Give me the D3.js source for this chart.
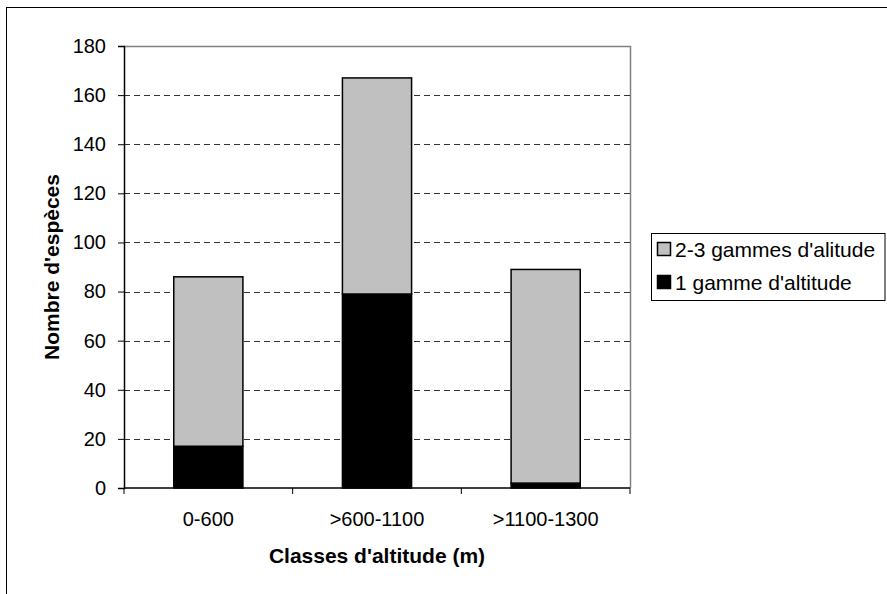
<!DOCTYPE html>
<html>
<head>
<meta charset="utf-8">
<script src="https://cdn.jsdelivr.net/npm/d3@7"></script>
<style>
  html, body { margin: 0; padding: 0; background: #fff; }
  svg { display: block; font-family: "Liberation Sans", Arial, sans-serif; }
</style>
</head>
<body>
<svg id="chart" width="887" height="594"></svg>
<script>
// Altitude classes and species counts per class
const categories = ["0-600", ">600-1100", ">1100-1300"];
const oneRange = [17, 79, 2];        // 1 gamme d'altitude
const multiRange = [69, 88, 87];     // 2-3 gammes d'altitude
const yTicks = [0, 20, 40, 60, 80, 100, 120, 140, 160, 180];
const seriesNames = ["1 gamme d'altitude", "2-3 gammes d'alitude"];
const seriesColors = ["#000000", "#c0c0c0"];

const svg = d3.select("#chart");

// Outer chart frame
svg.append("rect")
  .attr("x", 6.5).attr("y", 7.5)
  .attr("width", 900).attr("height", 600)
  .attr("fill", "#fff").attr("stroke", "#000").attr("stroke-width", 1);

const plot = { left: 124, right: 630, top: 46, bottom: 488 };

const x = d3.scaleBand()
  .domain(categories)
  .range([plot.left, plot.right])
  .paddingInner(0.59)
  .paddingOuter(0.295);

const y = d3.scaleLinear()
  .domain([0, 180])
  .range([plot.bottom, plot.top]);

// Plot area border (top and right)
svg.append("path")
  .attr("d", `M${plot.left},${plot.top + 0.5}H${plot.right + 0.5}V${plot.bottom}`)
  .attr("fill", "none").attr("stroke", "#808080").attr("stroke-width", 1.5);

// Dashed horizontal gridlines
svg.append("g")
  .selectAll("line")
  .data(yTicks.filter(t => t > 0 && t < 180))
  .join("line")
  .attr("x1", plot.left).attr("x2", plot.right)
  .attr("y1", d => Math.round(y(d)) + 0.5).attr("y2", d => Math.round(y(d)) + 0.5)
  .attr("stroke", "#333").attr("stroke-width", 1)
  .attr("stroke-dasharray", "6,4");

// Stacked bars
const table = categories.map((c, i) => ({ cat: c, one: oneRange[i], multi: multiRange[i] }));
const stacked = d3.stack().keys(["one", "multi"])(table);

svg.append("g")
  .selectAll("g")
  .data(stacked)
  .join("g")
  .attr("fill", (d, i) => seriesColors[i])
  .selectAll("rect")
  .data(d => d)
  .join("rect")
  .attr("x", d => x(d.data.cat))
  .attr("y", d => y(d[1]))
  .attr("width", x.bandwidth())
  .attr("height", d => y(d[0]) - y(d[1]))
  .attr("stroke", "#000")
  .attr("stroke-width", 1.5);

// Y axis
const yAxis = d3.axisLeft(y).tickValues(yTicks).tickSize(6).tickPadding(12);
const gy = svg.append("g")
  .attr("transform", `translate(${plot.left},0)`)
  .call(yAxis);
gy.select(".domain").attr("stroke", "#000").attr("stroke-width", 1.5);
gy.selectAll(".tick line").attr("stroke", "#000");
gy.selectAll("text")
  .attr("font-size", 20)
  .attr("font-family", "Liberation Sans, Arial, sans-serif")
  .attr("fill", "#000");

// X axis with ticks on category boundaries
const gx = svg.append("g")
  .attr("transform", `translate(0,${plot.bottom})`);
gx.append("line")
  .attr("x1", plot.left).attr("x2", plot.right)
  .attr("stroke", "#000").attr("stroke-width", 1.5);
const step = x.step();
gx.selectAll("line.tick")
  .data(d3.range(categories.length + 1))
  .join("line")
  .attr("class", "tick")
  .attr("x1", i => plot.left + i * step).attr("x2", i => plot.left + i * step)
  .attr("y1", 0).attr("y2", 6)
  .attr("stroke", "#000");
gx.selectAll("text")
  .data(categories)
  .join("text")
  .attr("x", d => x(d) + x.bandwidth() / 2)
  .attr("y", 38)
  .attr("text-anchor", "middle")
  .attr("font-size", 20)
  .text(d => d);

// Axis titles
svg.append("text")
  .attr("x", 377).attr("y", 563)
  .attr("text-anchor", "middle")
  .attr("font-size", 21).attr("font-weight", "bold")
  .text("Classes d'altitude (m)");

svg.append("text")
  .attr("transform", `translate(59,267) rotate(-90)`)
  .attr("text-anchor", "middle")
  .attr("font-size", 21).attr("font-weight", "bold")
  .text("Nombre d'espèces");

// Legend (top entry is the upper series)
const legend = svg.append("g");
legend.append("rect")
  .attr("x", 651.5).attr("y", 233.5)
  .attr("width", 233.5).attr("height", 67)
  .attr("fill", "#fff").attr("stroke", "#000").attr("stroke-width", 1);
const legendItems = [1, 0];
legend.selectAll("g.item")
  .data(legendItems)
  .join("g")
  .attr("class", "item")
  .attr("transform", (d, i) => `translate(657,${257 + i * 33})`)
  .each(function (d) {
    const g = d3.select(this);
    g.append("rect")
      .attr("x", 0.5).attr("y", -14.5)
      .attr("width", 13).attr("height", 13)
      .attr("fill", seriesColors[d]).attr("stroke", "#000").attr("stroke-width", 1.5);
    g.append("text")
      .attr("x", 18).attr("y", 0)
      .attr("font-size", 21)
      .text(seriesNames[d]);
  });
</script>
</body>
</html>
